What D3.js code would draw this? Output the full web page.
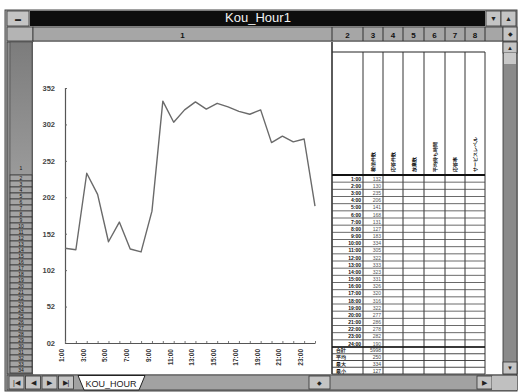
<!DOCTYPE html>
<html>
<head>
<meta charset="utf-8">
<script src="https://cdn.jsdelivr.net/npm/d3@7"></script>
<style>
  html, body { margin: 0; padding: 0; background: #ffffff; }
  svg { display: block; }
  text { font-family: "Liberation Sans", Arial, sans-serif; }
</style>
</head>
<body>
<svg id="sheet" width="518" height="392"></svg>
<script>
// ---- data ----
const hours = ["1:00","2:00","3:00","4:00","5:00","6:00","7:00","8:00","9:00","10:00","11:00","12:00",
               "13:00","14:00","15:00","16:00","17:00","18:00","19:00","20:00","21:00","22:00","23:00","24:00"];
const counts = [132, 130, 235, 206, 141, 168, 131, 127, 183, 334, 305, 322,
                333, 323, 331, 326, 320, 316, 322, 277, 286, 278, 282, 190];
const xTickLabels = ["1:00","3:00","5:00","7:00","9:00","11:00","13:00","15:00","17:00","19:00","21:00","23:00"];
const yTicks = [2, 52, 102, 152, 202, 252, 302, 352];
const columnNumbers = ["1","2","3","4","5","6","7","8"];
const tableHeaders = ["", "着信件数", "応答件数", "放棄数", "平均待ち時間", "応答率", "サービスレベル"];
const summaryLabels = ["合計", "平均", "最大", "最小"];
const sheetName = "KOU_HOUR";
const windowTitle = "Kou_Hour1";

// ---- layout ----
const svg = d3.select("#sheet");
const face = "#b4b4b4", faceDark = "#8e8e8e";

// window frame
svg.append("rect").attr("x", 5).attr("y", 10).attr("width", 512).attr("height", 381)
  .attr("fill", face).attr("stroke", "#444");

// title bar
svg.append("rect").attr("x", 30).attr("y", 11).attr("width", 455).attr("height", 15).attr("fill", "#0d0d0d");
svg.append("text").attr("x", 258).attr("y", 22).attr("text-anchor", "middle")
  .attr("font-size", 13).attr("fill", "#f2f2f2").text(windowTitle);

function button(x, y, w, h, glyph, fs) {
  svg.append("rect").attr("x", x).attr("y", y).attr("width", w).attr("height", h)
    .attr("fill", "#c4c4c4").attr("stroke", "#333").attr("stroke-width", 0.8);
  if (glyph) svg.append("text").attr("x", x + w / 2).attr("y", y + h / 2 + (fs || 8) * 0.35)
    .attr("text-anchor", "middle").attr("font-size", fs || 8).attr("fill", "#222").text(glyph);
}
button(7, 11, 22, 15, "▬", 6);
button(486, 11, 15, 15, "▼", 7);
button(501, 11, 15, 15, "▲", 7);

// column header row
const colEdges = [33, 332, 363, 383, 403, 424, 445, 465, 485, 503];
svg.append("rect").attr("x", 7).attr("y", 27).attr("width", 26).attr("height", 14)
  .attr("fill", face).attr("stroke", "#333").attr("stroke-width", 0.8);
svg.append("rect").attr("x", 33).attr("y", 27).attr("width", 470).attr("height", 14)
  .attr("fill", "#a6a6a6").attr("stroke", "#333").attr("stroke-width", 0.8);
columnNumbers.forEach((c, i) => {
  const x0 = colEdges[i], x1 = colEdges[i + 1];
  if (i > 0) svg.append("line").attr("x1", x0).attr("x2", x0).attr("y1", 27).attr("y2", 41)
    .attr("stroke", "#333").attr("stroke-width", 1);
  svg.append("text").attr("x", (x0 + x1) / 2).attr("y", 37.5).attr("text-anchor", "middle")
    .attr("font-size", 8).attr("font-weight", "bold").attr("fill", "#111").text(c);
});
svg.append("line").attr("x1", 485).attr("x2", 485).attr("y1", 27).attr("y2", 41).attr("stroke", "#333");
button(503, 27, 14, 14, "◆", 6);

// row header strip
svg.append("rect").attr("x", 7).attr("y", 42).attr("width", 26).attr("height", 332)
  .attr("fill", faceDark).attr("stroke", "#333").attr("stroke-width", 0.8);
const rowGrad = svg.append("defs").append("linearGradient").attr("id", "rowOne")
  .attr("x1", 0).attr("x2", 0).attr("y1", 0).attr("y2", 1);
rowGrad.append("stop").attr("offset", 0).attr("stop-color", "#7c7c7c");
rowGrad.append("stop").attr("offset", 1).attr("stop-color", "#9a9a9a");
svg.append("rect").attr("x", 10).attr("y", 42).attr("width", 22).attr("height", 133)
  .attr("fill", "url(#rowOne)").attr("stroke", "#444").attr("stroke-width", 0.6);
svg.append("text").attr("x", 21).attr("y", 170).attr("text-anchor", "middle")
  .attr("font-size", 5).attr("fill", "#111").text("1");
for (let r = 0; r < 33; r++) {
  const y0 = 175 + r * 6;
  if (y0 + 6 > 374) break;
  svg.append("rect").attr("x", 10).attr("y", y0).attr("width", 22).attr("height", 6)
    .attr("fill", "#a4a4a4").attr("stroke", "#2a2a2a").attr("stroke-width", 0.7);
  svg.append("text").attr("x", 21).attr("y", y0 + 5).attr("text-anchor", "middle")
    .attr("font-size", 5).attr("fill", "#111").text(r + 2);
}

// chart sheet area
svg.append("rect").attr("x", 33).attr("y", 42).attr("width", 299).attr("height", 332).attr("fill", "#ffffff");

// ---- chart ----
const x = d3.scalePoint().domain(hours).range([65, 315]);
const y = d3.scaleLinear().domain([2, 352]).range([343, 88]);

const yAxis = svg.append("g").attr("transform", "translate(65,0)")
  .call(d3.axisLeft(y).tickValues(yTicks).tickSize(-2).tickPadding(10).tickFormat(d3.format("02d")));
yAxis.select(".domain").attr("stroke", "#555").attr("stroke-width", 1.2);
yAxis.selectAll(".tick line").attr("stroke", "#666");
yAxis.selectAll(".tick text").attr("font-size", 7.5).attr("font-weight", "bold").attr("fill", "#444")
  .attr("font-family", "Liberation Sans, Arial, sans-serif");

const xAxis = svg.append("g").attr("transform", "translate(0,343)")
  .call(d3.axisBottom(x).tickSize(-2).tickSizeOuter(0)
    .tickFormat(d => xTickLabels.includes(d) ? d : ""));
xAxis.select(".domain").attr("stroke", "#555").attr("stroke-width", 1.2);
xAxis.selectAll(".tick line").attr("stroke", "#777");
xAxis.selectAll(".tick text")
  .attr("transform", "rotate(-90)")
  .attr("text-anchor", "end")
  .attr("x", -6).attr("y", -1.5).attr("dy", 0)
  .attr("font-size", 6.5).attr("font-weight", "bold").attr("fill", "#333")
  .attr("font-family", "Liberation Sans, Arial, sans-serif");

const line = d3.line().x((d, i) => x(hours[i])).y(d => y(d));
svg.append("path").datum(counts).attr("d", line)
  .attr("fill", "none").attr("stroke", "#6a6a6a").attr("stroke-width", 1.4)
  .attr("stroke-linejoin", "round");

// ---- table beside the chart ----
svg.append("rect").attr("x", 332).attr("y", 42).attr("width", 171).attr("height", 332).attr("fill", "#ffffff");
const tableTop = 52, headBottom = 175, bodyBottom = 347, tableBottom = 374;
svg.append("line").attr("x1", 332).attr("x2", 485).attr("y1", tableTop).attr("y2", tableTop)
  .attr("stroke", "#222").attr("stroke-width", 1);
for (let c = 1; c < 9; c++) {
  svg.append("line").attr("x1", colEdges[c]).attr("x2", colEdges[c])
    .attr("y1", c === 1 ? 42 : tableTop).attr("y2", tableBottom)
    .attr("stroke", "#333").attr("stroke-width", c === 1 ? 1.6 : 1);
}
// rotated column headings
tableHeaders.forEach((t, i) => {
  if (!t) return;
  const cx = (colEdges[i + 1] + colEdges[i + 2]) / 2 + 2;
  svg.append("text").attr("transform", `translate(${cx},${headBottom - 3}) rotate(-90)`)
    .attr("font-size", 5).attr("font-weight", "bold").attr("fill", "#111")
    .attr("font-family", "Noto Sans CJK JP, sans-serif").text(t);
});
svg.append("line").attr("x1", 332).attr("x2", 485).attr("y1", headBottom).attr("y2", headBottom)
  .attr("stroke", "#111").attr("stroke-width", 2);

// hourly rows
const rowH = (bodyBottom - headBottom) / hours.length;
hours.forEach((h, i) => {
  const y0 = headBottom + i * rowH;
  svg.append("line").attr("x1", 332).attr("x2", 485).attr("y1", y0 + rowH).attr("y2", y0 + rowH)
    .attr("stroke", "#444").attr("stroke-width", 0.8);
  svg.append("text").attr("x", 361).attr("y", y0 + rowH - 1.5).attr("text-anchor", "end")
    .attr("font-size", 5).attr("font-weight", "bold").attr("fill", "#111").text(h);
  svg.append("text").attr("x", 381).attr("y", y0 + rowH - 1.5).attr("text-anchor", "end")
    .attr("font-size", 5).attr("fill", "#555").text(counts[i]);
});
svg.append("line").attr("x1", 332).attr("x2", 485).attr("y1", bodyBottom).attr("y2", bodyBottom)
  .attr("stroke", "#111").attr("stroke-width", 1.6);

// summary rows
const summaryValues = [d3.sum(counts), Math.round(d3.mean(counts)), d3.max(counts), d3.min(counts)];
const sumH = (tableBottom - bodyBottom) / summaryLabels.length;
summaryLabels.forEach((s, i) => {
  const y0 = bodyBottom + i * sumH;
  svg.append("line").attr("x1", 332).attr("x2", 485).attr("y1", y0 + sumH).attr("y2", y0 + sumH)
    .attr("stroke", "#333").attr("stroke-width", 0.9);
  svg.append("text").attr("x", 336).attr("y", y0 + sumH - 1.5)
    .attr("font-size", 5).attr("font-weight", "bold").attr("fill", "#111")
    .attr("font-family", "Noto Sans CJK JP, sans-serif").text(s);
  svg.append("text").attr("x", 381).attr("y", y0 + sumH - 1.5).attr("text-anchor", "end")
    .attr("font-size", 5).attr("fill", "#444").text(summaryValues[i]);
});

// vertical scroll bar
svg.append("rect").attr("x", 503).attr("y", 42).attr("width", 14).attr("height", 332)
  .attr("fill", "#8a8a8a").attr("stroke", "#333").attr("stroke-width", 0.8);
button(503, 42, 14, 11, "▲", 6);
svg.append("rect").attr("x", 504).attr("y", 53).attr("width", 12).attr("height", 11).attr("fill", "#c8c8c8");
button(503, 362, 14, 12, "▼", 6);

// sheet tabs and horizontal scroll bar
svg.append("rect").attr("x", 7).attr("y", 375).attr("width", 510).attr("height", 15)
  .attr("fill", "#a2a2a2").attr("stroke", "#333").attr("stroke-width", 0.8);
["|◀", "◀", "▶", "▶|"].forEach((g, i) => button(9 + i * 16.5, 376, 15, 13, g, 7));
svg.append("polygon").attr("points", "78,375.5 145,375.5 139,390 84,390")
  .attr("fill", "#ffffff").attr("stroke", "#222").attr("stroke-width", 1);
svg.append("text").attr("x", 111).attr("y", 387).attr("text-anchor", "middle")
  .attr("font-size", 9).attr("fill", "#222").text(sheetName);
button(309, 376, 21, 13, "◆", 6);
button(477, 376, 15, 13, "▶", 7);
svg.append("rect").attr("x", 492).attr("y", 376).attr("width", 25).attr("height", 14).attr("fill", "#c0c0c0");
</script>
</body>
</html>
